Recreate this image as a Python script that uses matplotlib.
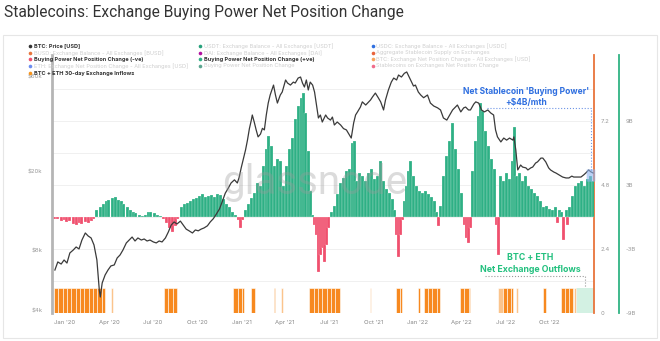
import numpy as np
import pandas as pd
import matplotlib
matplotlib.use("Agg")
import matplotlib.pyplot as plt
from matplotlib.lines import Line2D
from matplotlib.patches import Rectangle, FancyBboxPatch
import matplotlib.dates as mdates

plt.rcParams['font.family'] = ['Inter', 'DejaVu Sans']

START = pd.Timestamp('2020-01-01')

# BTC price, days since 2020-01-01 -> $k
btc_day = [-21, -15, -8, -2, 4, 10, 17, 23, 29, 35, 42, 48, 54, 60, 66, 71, 73, 77, 83, 89,
           95, 102, 108, 114, 120, 127, 133, 139, 145, 151, 158, 164, 170, 176, 183, 189, 195, 201, 208, 214,
           220, 226, 232, 239, 245, 251, 257, 264, 270, 276, 282, 288, 295, 301, 307, 313, 320, 326, 332, 338,
           344, 351, 357, 361, 365, 369, 374, 378, 382, 386, 388, 392, 396, 400, 405, 409, 413, 417, 421, 425,
           432, 436, 440, 446, 450, 457, 461, 467, 473, 477, 483, 488, 492, 496, 500, 504, 508, 513, 517, 521,
           525, 529, 533, 540, 544, 550, 554, 558, 564, 571, 577, 583, 589, 593, 598, 602, 606, 612, 616, 623,
           627, 633, 637, 643, 649, 654, 660, 664, 670, 676, 681, 687, 691, 697, 703, 708, 712, 716, 722, 726,
           732, 737, 743, 751, 757, 764, 772, 778, 784, 791, 797, 803, 809, 813, 820, 826, 830, 836, 840, 847,
           851, 857, 863, 869, 876, 882, 888, 892, 896, 903, 909, 915, 921, 928, 930, 934, 938, 944, 948, 955,
           959, 965, 969, 975, 979, 986, 990, 996, 1002, 1006, 1013, 1017, 1023, 1031, 1038, 1044, 1050, 1054, 1060, 1069,
           1075, 1079, 1085, 1089, 1094]
btc_price = [6.42, 7.05, 6.88, 7.21, 6.96, 7.82, 8.09, 8.38, 8.19, 9.08, 9.85, 9.51, 9.30, 8.58, 7.21, 5.10, 4.70, 5.53, 6.06, 6.42,
             6.73, 6.81, 7.38, 7.64, 8.09, 8.78, 9.08, 9.40, 8.98, 9.30, 9.08, 9.19, 8.98, 9.08, 8.88, 8.78, 8.98, 8.88, 9.30, 9.96,
             10.8, 11.19, 10.93, 11.3, 10.8, 10.3, 10.1, 9.85, 10.2, 10.1, 10.3, 10.44, 10.7, 11.2, 11.6, 12.2, 13.0, 14.2, 15.6, 16.5,
             17.55, 18.2, 17.55, 18.8, 20.9, 22.9, 25.7, 28.8, 32.9, 36.3, 38.5, 35.5, 32.4, 29.9, 30.9, 33.0, 32.4, 38.5, 44.2, 48.5,
             54.4, 48.5, 44.2, 48.5, 50.2, 57.7, 55.7, 54.4, 56.3, 55.7, 59.0, 59.7, 55.7, 53.2, 57.7, 51.4, 56.3, 54.4, 50.2, 43.2,
             37.2, 38.5, 35.5, 38.5, 37.2, 36.3, 37.6, 34.3, 35.5, 34.3, 32.9, 32.4, 30.6, 29.5, 35.1, 38.5, 39.9, 42.2, 44.8, 43.2,
             44.2, 45.8, 47.4, 49.6, 47.0, 44.8, 40.8, 45.8, 51.4, 56.3, 59.0, 57.7, 61.1, 59.7, 62.3, 63.3, 60.5, 57.7, 53.8, 54.4,
             50.2, 48.5, 47.0, 48.5, 44.2, 42.7, 41.8, 40.8, 37.2, 36.3, 38.5, 40.8, 42.2, 43.2, 39.9, 41.8, 42.2, 40.8, 40.8, 43.7,
             44.8, 44.2, 40.8, 39.9, 40.8, 39.4, 38.5, 32.4, 29.9, 28.2, 29.5, 28.8, 29.5, 28.8, 29.9, 25.7, 20.4, 21.6, 21.1, 20.9,
             20.4, 20.9, 21.1, 22.1, 22.4, 23.4, 23.4, 22.4, 20.9, 20.4, 19.9, 19.7, 19.3, 18.8, 18.6, 18.6, 19.0, 18.8, 18.8, 18.8,
             19.3, 19.7, 20.4, 20.0, 19.7]

# stablecoin buying power net position change, days since 2020-01-01 -> $B
bp_day = [-21, -15, -8, -2, 4, 10, 17, 23, 29, 35, 42, 48, 54, 60,
          66, 73, 79, 85, 91, 98, 104, 110, 116, 122, 129, 135, 141, 147, 154, 160, 166, 172, 178, 185, 191, 197,
          203, 210, 216, 222, 228, 234,
          241, 247, 253, 259, 266, 272, 278, 284, 291, 297, 303, 309, 315, 322, 328, 334, 340, 347, 353,
          359, 363, 367,
          374, 380, 386, 392, 398, 405, 411, 417, 421, 427, 434, 440, 446, 452, 459, 465, 471, 477, 483, 490, 494, 498, 504, 508, 513,
          517, 521, 525, 529, 533, 537, 542, 546,
          552, 558, 564, 571, 577, 583, 589, 596, 600, 604, 610, 616, 623, 629, 635, 641, 647, 654, 660, 666, 672, 679, 683,
          687, 691, 695, 699,
          703, 708, 712, 716, 722, 728, 735, 741, 747, 753, 759, 766, 770,
          774,
          778, 784, 791, 797, 803, 809, 815, 822,
          828, 832, 836, 840,
          845, 851, 857, 861, 865, 872, 878, 884, 890,
          894, 898,
          903, 909, 915, 921, 928, 932, 936, 942, 948, 955, 961, 967, 973, 979, 986, 992, 998, 1004, 1011, 1017,
          1021, 1025, 1029, 1033, 1038, 1042, 1046,
          1052, 1058, 1064, 1071, 1077, 1083, 1089, 1094]
bp_val = [-0.15, -0.23, -0.42, -0.33, -0.51, -0.42, -0.70, -0.79, -0.61, -0.70, -0.51, -0.61, -0.42, -0.23,
          0.61, 0.98, 1.17, 1.54, 1.63, 1.82, 1.91, 1.63, 1.45, 1.17, 0.98, 0.70, 0.51, 0.33, 0.14, 0.09, 0.23, 0.42, 0.51, 0.33, 0.23, 0.05,
          -0.23, -0.61, -1.07, -1.45, -0.89, -0.23,
          0.89, 1.17, 1.35, 1.54, 1.73, 1.82, 2.0, 2.19, 1.91, 2.0, 2.1, 1.91, 2.19, 2.1, 1.73, 1.26, 0.89, 0.51, 0.14,
          -0.33, -1.07, -0.33,
          0.61, 1.17, 1.82, 2.29, 3.22, 2.94, 4.8, 6.39, 7.6, 6.67, 4.8, 5.46, 5.27, 2.94, 4.8, 6.39, 7.42, 9.19, 10.4, 11.15, 11.6, 9.75, 6.2, 2.47, 0.23,
          -0.79, -1.73, -5.2, -3.6, -2.94, -4.25, -2.66, -1.07,
          0.42, 1.07, 2.19, 3.22, 3.69, 4.34, 4.52, 6.95, 7.14, 3.4, 4.15, 3.87, 3.4, 4.15, 4.52, 3.59, 3.87, 5.27, 3.4, 2.66, 2.29, 1.73, 0.61,
          -1.73, -3.78, -1.73, -0.33,
          1.54, 2.94, 4.34, 5.27, 3.87, 2.94, 2.47, 2.29, 2.47, 2.19, 1.91, 1.54, 0.42,
          -0.89,
          1.07, 3.87, 5.74, 7.14, 8.82, 6.39, 4.52, 2.29,
          -0.79, -2.0, -2.47, -1.07,
          4.34, 7.14, 9.47, 10.7, 9.94, 8.07, 6.67, 5.46, 4.52,
          -0.79, -3.59,
          3.87, 3.4, 4.15, 3.59, 5.27, 8.44, 3.87, 4.15, 3.4, 3.87, 2.94, 2.66, 2.29, 2.0, 1.54, 0.98, 1.07, 0.79, 0.61, 0.89,
          -0.61, 0.7, 0.42, -2.19, 0.61, -0.79, 0.89,
          2.0, 2.94, 3.22, 3.4, 2.94, 3.59, 3.87, 3.4]

# BTC + ETH 30-day exchange inflow periods (days since 2020-01-01)
inflow_start = [-23, 96, 205, 349, 386, 432, 448, 506, 631, 685, 732, 743, 818, 898, 907, 934, 990, 1027, 1054]
inflow_end = [83, 99, 232, 371, 394, 436, 452, 569, 633, 699, 735, 776, 840, 907, 928, 938, 996, 1052, 1058]
inflow_faint = [False, True, False, False, False, False, True, False, True, False, False, False, False, True, False, True, False, False, True]
inflow_level = 0.95

price_ticks = [4, 8, 20, 60]
price_labels = ['$4k', '$8k', '$20k', '$60k']
inflow_ticks = [0, 2.4, 4.8, 7.2]
bp_ticks = [-9, -3, 3, 9]
bp_labels = ['-9B', '-3B', '3B', '9B']
month_ticks = ['2020-01-01', '2020-04-01', '2020-07-01', '2020-10-01', '2021-01-01', '2021-04-01',
               '2021-07-01', '2021-10-01', '2022-01-01', '2022-04-01', '2022-07-01', '2022-10-01']
month_labels = ["Jan '20", "Apr '20", "Jul '20", "Oct '20", "Jan '21", "Apr '21",
                "Jul '21", "Oct '21", "Jan '22", "Apr '22", "Jul '22", "Oct '22"]

legend_cols = [
    [('BTC: Price [USD]', '#333333', True),
     ('BUSD: Exchange Balance - All Exchanges [BUSD]', '#e8743b', False),
     ('Buying Power Net Position Change (-ve)', '#f0506e', True),
     ('ETH: Exchange Net Position Change - All Exchanges [USD]', '#6b8cef', False),
     ('BTC + ETH 30-day Exchange Inflows', '#f7931a', True)],
    [('USDT: Exchange Balance - All Exchanges [USDT]', '#26a17b', False),
     ('DAI: Exchange Balance - All Exchanges [DAI]', '#b0109f', False),
     ('Buying Power Net Position Change (+ve)', '#2eb085', True),
     ('Buying Power Net Position Change', '#5aa58f', False)],
    [('USDC: Exchange Balance - All Exchanges [USDC]', '#2f6fe0', False),
     ('Aggregate Stablecoin Supply on Exchanges', '#e8633b', False),
     ('BTC: Exchange Net Position Change - All Exchanges [USD]', '#f7a35c', False),
     ('Stablecoins on Exchanges Net Position Change', '#f06b8a', False)],
]

GREEN = '#2eb085'
RED = '#f0506e'
ORANGE = '#f7891f'
ORANGE_FAINT = '#fbc48c'
W, H = 660, 341


def days_to_dates(days):
    return START + pd.to_timedelta(np.asarray(days, dtype=float), unit='D')


def fx(px):
    return px / W


def fy(py):
    return 1 - py / H


fig = plt.figure(figsize=(6.6, 3.41), dpi=100)
fig.patch.set_facecolor('white')

# panel frame + title
fig.add_artist(Rectangle((fx(3), fy(338)), fx(654), (338 - 35) / H, transform=fig.transFigure,
                         fill=False, edgecolor='#e6e6e6', lw=0.8))
fig.text(fx(4), fy(13), 'Stablecoins: Exchange Buying Power Net Position Change',
         fontsize=11.2, color='#333333', va='center', ha='left', family=['Roboto', 'DejaVu Sans'])

rect = [fx(52), fy(313), fx(594 - 52), (313 - 55) / H]
ax_o = fig.add_axes(rect)
ax_g = fig.add_axes(rect, sharex=ax_o)
ax_b = fig.add_axes(rect, sharex=ax_o)
for a in (ax_g, ax_b):
    a.patch.set_visible(False)

xmin, xmax = days_to_dates([-27, 1096])

# --- orange inflows
ax_o.set_ylim(0, 9.674)
for level in np.arange(1.2, 8.5, 1.2):
    ax_o.axhline(level, color='#eeeeee', lw=0.6, zorder=0)
for s, e, faint in zip(inflow_start, inflow_end, inflow_faint):
    pos = np.arange(s, e, 9)
    widths = np.minimum(9, e - pos)
    ax_o.bar(days_to_dates(pos), inflow_level, width=widths, align='edge',
             color=ORANGE_FAINT if faint else ORANGE, edgecolor='white', linewidth=0.4, zorder=2)
ax_o.add_patch(Rectangle((mdates.date2num(days_to_dates([1058])[0]), 0), 38, inflow_level,
                         facecolor='#d3f1e3', edgecolor='none', zorder=1))

for side in ('top', 'left', 'bottom'):
    ax_o.spines[side].set_visible(False)
ax_o.spines['right'].set_color('#e8743b')
ax_o.spines['right'].set_linewidth(1.3)
ax_o.yaxis.tick_right()
ax_o.set_yticks(inflow_ticks)
ax_o.set_yticklabels(['0', '2.4', '4.8', '7.2'])
ax_o.tick_params(axis='y', length=0, pad=5, labelsize=4.3, labelcolor='#999999')
ax_o.set_xticks(days_to_dates([(pd.Timestamp(m) - START).days for m in month_ticks]))
ax_o.set_xticklabels(month_labels)
ax_o.tick_params(axis='x', length=0, pad=5, labelsize=4.3, labelcolor='#888888')
ax_o.set_xlim(xmin, xmax)

# --- buying power bars
ax_g.set_ylim(-9.0, 15.18)
cols = [GREEN if v >= 0 else RED for v in bp_val]
ax_g.bar(days_to_dates(bp_day), bp_val, width=6.2, color=cols, edgecolor='white', linewidth=0.15, zorder=2)
for side in ('top', 'left', 'bottom'):
    ax_g.spines[side].set_visible(False)
ax_g.spines['right'].set_position(('axes', (619 - 52) / 542))
ax_g.spines['right'].set_color('#30b383')
ax_g.spines['right'].set_linewidth(1.3)
ax_g.yaxis.tick_right()
ax_g.set_yticks(bp_ticks)
ax_g.set_yticklabels(bp_labels)
ax_g.tick_params(axis='y', length=0, pad=5, labelsize=4.3, labelcolor='#999999')
ax_g.tick_params(axis='x', bottom=False, labelbottom=False)

# --- BTC price
ax_b.set_yscale('log')
ax_b.set_ylim(3.908, 77.0)
ax_b.plot(days_to_dates(btc_day), btc_price, color='#3a3a3a', lw=0.9, zorder=3)
for side in ('top', 'right', 'bottom'):
    ax_b.spines[side].set_visible(False)
ax_b.spines['left'].set_color('#b5b5b5')
ax_b.spines['left'].set_linewidth(2)
ax_b.set_yticks(price_ticks)
ax_b.set_yticklabels(price_labels)
ax_b.yaxis.set_minor_locator(matplotlib.ticker.NullLocator())
ax_b.tick_params(axis='y', length=0, pad=7, labelsize=4.3, labelcolor='#999999')
ax_b.tick_params(axis='x', bottom=False, labelbottom=False)
ax_b.set_xlim(xmin, xmax)

# watermark
fig.text(fx(315), fy(183), 'glassnode', fontsize=29, color='#9a9a9a', alpha=0.35,
         ha='center', va='center', family=['Roboto', 'DejaVu Sans'], zorder=10)

# legend
row_y = [45.7, 52.7, 59.3, 66.0, 73.3]
col_x = [30, 200, 373]
for cx, entries in zip(col_x, legend_cols):
    for ry, (label, colr, active) in zip(row_y, entries):
        fig.add_artist(Line2D([fx(cx)], [fy(ry)], marker='o', markersize=2.6, color=colr,
                              markeredgewidth=0, transform=fig.transFigure))
        fig.text(fx(cx + 3.5), fy(ry), label, fontsize=4, va='center', ha='left',
                 color='#333333' if active else '#cfcfcf',
                 fontweight='bold' if active else 'normal')

# annotations
fig.text(fx(526), fy(92), "Net Stablecoin 'Buying Power'", fontsize=6.1, fontweight='bold',
         color='#2f6fe0', ha='center', va='center')
fig.text(fx(526), fy(103), '+$4B/mth', fontsize=6.1, fontweight='bold',
         color='#2f6fe0', ha='center', va='center')
fig.add_artist(Line2D([fx(487), fx(591), fx(591)], [fy(108), fy(108), fy(170)], ls=':',
                      lw=0.8, color='#6f95e6', transform=fig.transFigure))
fig.add_artist(FancyBboxPatch((fx(588), fy(181)), fx(6), 11 / H, boxstyle='round,pad=0.002',
                              transform=fig.transFigure, facecolor='#8fb3f0', edgecolor='none', alpha=0.6))

fig.text(fx(530), fy(258), 'BTC + ETH', fontsize=6.3, fontweight='bold',
         color='#22c07e', ha='center', va='center')
fig.text(fx(530), fy(269), 'Net Exchange Outflows', fontsize=6.3, fontweight='bold',
         color='#22c07e', ha='center', va='center')
fig.add_artist(Line2D([fx(485), fx(585), fx(585)], [fy(276), fy(276), fy(287)], ls=':',
                      lw=0.8, color='#9a9a9a', transform=fig.transFigure))

fig.savefig('out.png', dpi=100)
